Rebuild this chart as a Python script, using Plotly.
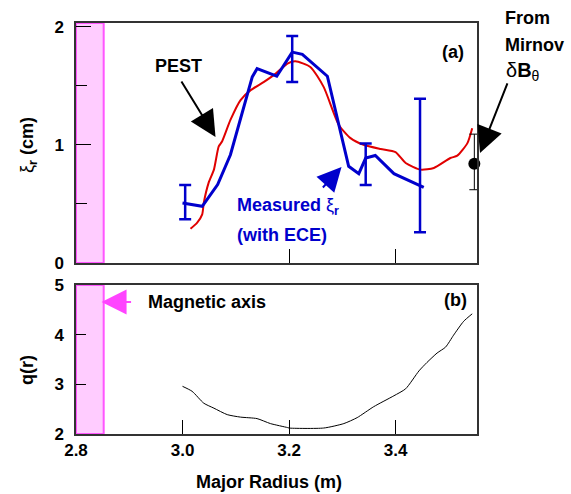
import plotly.graph_objects as go

# ---------------- data ----------------
# Panel (a): measured displacement xi_r (blue, ECE)
meas_R = [3.000, 3.037, 3.066, 3.090, 3.131, 3.140, 3.177, 3.2015, 3.206, 3.225,
          3.272, 3.312, 3.331, 3.344, 3.362, 3.397, 3.453]
meas_xi = [0.507, 0.48, 0.664, 0.916, 1.574, 1.644, 1.58, 1.756, 1.784, 1.765,
           1.58, 0.818, 0.756, 0.888, 0.91, 0.756, 0.64]

# error bars of the measurement
err_R = [3.005, 3.206, 3.344, 3.446]
err_lo = [0.37, 1.53, 0.66, 0.26]
err_hi = [0.66, 1.92, 1.01, 1.39]

# PEST calculation (red)
pest_R = [3.015, 3.0276, 3.037, 3.040, 3.049, 3.059, 3.068, 3.0745, 3.090, 3.109,
          3.128, 3.153, 3.175, 3.197, 3.212, 3.240, 3.265, 3.2935, 3.3155, 3.340,
          3.372, 3.400, 3.419, 3.447, 3.472, 3.503, 3.516, 3.535, 3.544]
pest_xi = [0.29, 0.342, 0.412, 0.51, 0.678, 0.79, 0.986, 1.03, 1.21, 1.378,
           1.462, 1.532, 1.602, 1.687, 1.706, 1.658, 1.49, 1.168, 1.056, 1.0,
           0.964, 0.938, 0.846, 0.79, 0.804, 0.888, 0.908, 1.014, 1.14]

# Mirnov point
mirnov_R = [3.548]
mirnov_xi = [0.84]
mirnov_lo = [0.62]
mirnov_hi = [1.09]

# Panel (b): safety factor q(r)
q_R = [3.000, 3.018, 3.040, 3.059, 3.084, 3.109, 3.140, 3.165, 3.197, 3.200,
       3.265, 3.303, 3.328, 3.359, 3.397, 3.419, 3.444, 3.459, 3.478, 3.494,
       3.509, 3.528, 3.544]
q_val = [2.96, 2.86, 2.62, 2.52, 2.39, 2.34, 2.31, 2.21, 2.13, 2.12,
         2.12, 2.21, 2.33, 2.55, 2.77, 2.91, 3.27, 3.44, 3.63, 3.75,
         3.99, 4.27, 4.42]

# magnetic-axis band
mag_band = [2.80, 2.852]

# axes
x_range = [2.8, 3.553]
x_ticks = [2.8, 3.0, 3.2, 3.4]
x_ticktext = ["2.8", "3.0", "3.2", "3.4"]
xi_range = [0, 2.03]
xi_ticks = [0, 1, 2]
q_range = [2, 5]
q_ticks = [2, 3, 4, 5]

FONT = "Liberation Sans, Arial, sans-serif"
BLUE = "#0000cc"
RED = "#e00000"
BAND_FILL = "#ffccff"
BAND_LINE = "#ff55ff"

fig = go.Figure()

fig.add_trace(go.Scatter(x=pest_R, y=pest_xi, mode="lines",
                         line=dict(color=RED, width=2, shape="spline", smoothing=0.6),
                         xaxis="x", yaxis="y", showlegend=False))
fig.add_trace(go.Scatter(x=meas_R, y=meas_xi, mode="lines",
                         line=dict(color=BLUE, width=3), xaxis="x", yaxis="y",
                         showlegend=False))
mid = [(a + b) / 2 for a, b in zip(err_lo, err_hi)]
half = [(b - a) / 2 for a, b in zip(err_lo, err_hi)]
fig.add_trace(go.Scatter(x=err_R, y=mid, mode="markers",
                         marker=dict(size=1, color="rgba(0,0,0,0)"),
                         error_y=dict(type="data", array=half, symmetric=True,
                                      color=BLUE, thickness=2.5, width=6),
                         xaxis="x", yaxis="y", showlegend=False))
fig.add_trace(go.Scatter(x=mirnov_R, y=mirnov_xi, mode="markers",
                         marker=dict(size=12, color="black"),
                         error_y=dict(type="data",
                                      array=[h - v for h, v in zip(mirnov_hi, mirnov_xi)],
                                      arrayminus=[v - l for l, v in zip(mirnov_lo, mirnov_xi)],
                                      color="black", thickness=1, width=5),
                         cliponaxis=False, xaxis="x", yaxis="y", showlegend=False))
fig.add_trace(go.Scatter(x=q_R, y=q_val, mode="lines",
                         line=dict(color="black", width=1, shape="spline", smoothing=0.6),
                         xaxis="x2", yaxis="y2", showlegend=False))

# magnetic-axis bands
for xr, yr in [("x", "y domain"), ("x2", "y2 domain")]:
    fig.add_shape(type="rect", xref=xr, yref=yr, x0=mag_band[0], x1=mag_band[1],
                  y0=0, y1=1, fillcolor=BAND_FILL,
                  line=dict(color=BAND_LINE, width=2), layer="below")

tickfont = dict(family=FONT, size=17, color="black", weight="bold")
axis_common = dict(showline=True, linecolor="#333", linewidth=1.5, mirror=True,
                   showgrid=False, zeroline=False, ticks="inside", tickcolor="black",
                   tickfont=tickfont)

dom_top = [0.416, 1.0]
dom_bot = [0.0, 0.3625]

fig.update_layout(
    width=571, height=494,
    margin=dict(l=76, r=94, t=23, b=60),
    paper_bgcolor="white", plot_bgcolor="white",
    font=dict(family=FONT, color="black"),
    xaxis=dict(domain=[0, 1], anchor="y", range=x_range, tickvals=[3.2, 3.4],
               showticklabels=False, ticklen=14, **axis_common),
    yaxis=dict(domain=dom_top, anchor="x", range=xi_range, tickvals=xi_ticks,
               ticklen=15, ticklabelstandoff=7,
               minor=dict(dtick=0.5, ticks="inside", ticklen=11, tickcolor="black"),
               **axis_common),
    xaxis2=dict(domain=[0, 1], anchor="y2", range=x_range, tickvals=x_ticks,
                ticktext=x_ticktext, ticklen=14, ticklabelstandoff=0, **axis_common),
    yaxis2=dict(domain=dom_bot, anchor="x2", range=q_range, tickvals=q_ticks,
                ticklen=10, ticklabelstandoff=7, **axis_common),
)

bold18 = dict(family=FONT, size=18, color="black", weight="bold")
ann = []
# PEST label and arrow
ann.append(dict(x=2.9925, y=1.667, xref="x", yref="y", text="PEST", showarrow=False,
                font=bold18))
ann.append(dict(x=3.062, y=1.066, xref="x", yref="y", ax=-35, ay=-57, text="",
                showarrow=True, arrowhead=2, arrowsize=2.6, arrowwidth=2,
                arrowcolor="black"))
# panel labels
ann.append(dict(x=3.507, y=1.785, xref="x", yref="y", text="(a)", showarrow=False,
                font=bold18))
ann.append(dict(x=3.5127, y=4.698, xref="x2", yref="y2", text="(b)", showarrow=False,
                font=bold18))
# Mirnov
ann.append(dict(x=1.065, y=1.012, xref="paper", yref="paper", text="From",
                xanchor="left", yanchor="middle", showarrow=False, font=bold18))
ann.append(dict(x=1.065, y=0.946, xref="paper", yref="paper", text="Mirnov",
                xanchor="left", yanchor="middle", showarrow=False, font=bold18))
ann.append(dict(x=1.067, y=0.881, xref="paper", yref="paper",
                text="δ<b>B</b><sub>θ</sub>", xanchor="left", yanchor="middle",
                showarrow=False, font=dict(family=FONT, size=20, color="black")))
ann.append(dict(x=1.0075, y=0.684, xref="paper", yref="paper", ax=28, ay=-71,
                text="", showarrow=True, arrowhead=2, arrowsize=2.6, arrowwidth=2,
                arrowcolor="black"))
# Measured
ann.append(dict(x=3.0995, y=0.474, xref="x", yref="y", xanchor="left",
                yanchor="middle",
                text="<b>Measured </b>ξ<sub><b>r</b></sub>", showarrow=False,
                font=dict(family=FONT, size=18, color=BLUE)))
ann.append(dict(x=3.0995, y=0.237, xref="x", yref="y", xanchor="left",
                yanchor="middle", text="(with ECE)", showarrow=False,
                font=dict(family=FONT, size=18, color=BLUE, weight="bold")))
ann.append(dict(x=3.2986, y=0.812, xref="x", yref="y", ax=-20, ay=22, text="",
                showarrow=True, arrowhead=2, arrowsize=2.4, arrowwidth=2,
                arrowcolor=BLUE))
# Magnetic axis
ann.append(dict(x=2.9305, y=4.658, xref="x2", yref="y2", xanchor="left",
                yanchor="middle", text="Magnetic axis", showarrow=False, font=bold18))
ann.append(dict(x=2.848, y=4.658, xref="x2", yref="y2", ax=31, ay=0, text="",
                showarrow=True, arrowhead=2, arrowsize=2.5, arrowwidth=2,
                arrowcolor="#ff44ff"))
# axis titles
ann.append(dict(x=0.481, y=-0.117, xref="paper", yref="paper", xanchor="center",
                yanchor="middle", text="Major Radius (m)", showarrow=False,
                font=bold18))
ann.append(dict(x=-0.12, y=0.703, xref="paper", yref="paper", textangle=-90,
                xanchor="center", yanchor="middle",
                text="ξ<sub><b>r</b></sub><b> (cm)</b>", showarrow=False,
                font=dict(family=FONT, size=18, color="black")))
ann.append(dict(x=-0.122, y=0.156, xref="paper", yref="paper", textangle=-90,
                xanchor="center", yanchor="middle",
                text="q(r)", showarrow=False, font=bold18))

fig.update_layout(annotations=ann)

fig.write_html("out.html")
